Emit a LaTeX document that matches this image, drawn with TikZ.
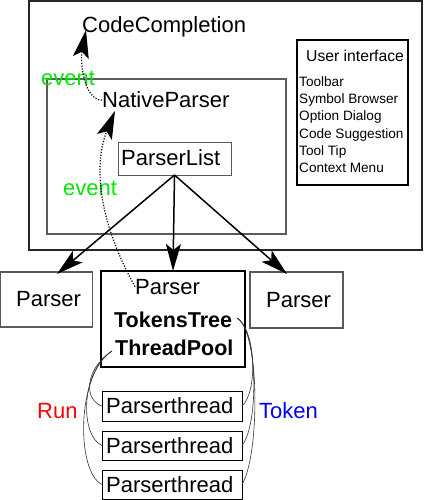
\documentclass[tikz,border=0pt]{standalone}
\usepackage{fontspec}
\setmainfont{Liberation Sans}
\usetikzlibrary{arrows.meta}
\definecolor{evgreen}{RGB}{0,230,0}
\definecolor{boxgray}{RGB}{90,90,90}
\tikzset{
  frame/.style={draw=#1, line width=1.3pt, inner sep=0pt, outer sep=0pt, anchor=north west},
  frame/.default=black,
  lbl/.style={inner sep=0pt, anchor=base west, font=\fontsize{22}{26}\selectfont},
  boldlbl/.style={lbl, font=\fontsize{21.5}{26}\selectfont\bfseries},
  small/.style={inner sep=0pt, anchor=base west, font=\fontsize{13.6}{17}\selectfont},
  bigarrow/.style={line width=1.5pt, -{Stealth[length=27pt, width=15pt, inset=6pt]}},
  dotarrow/.style={line width=1.2pt, dash pattern=on 1.2pt off 1.6pt, -{Stealth[length=28pt, width=16pt, inset=6pt]}},
  thin/.style={line width=0.6pt, draw=black!80}
}
\begin{document}
\begin{tikzpicture}[x=1pt, y=-1pt]
\useasboundingbox (0,0) rectangle (423,500);
% boxes
\node[frame=black!85, minimum width=393pt, minimum height=249pt] (outer) at (29,1) {};
\node[frame=boxgray, minimum width=239pt, minimum height=155pt] (native) at (47,79) {};
\node[frame, minimum width=111pt, minimum height=145pt] (ui) at (297,40) {};
\node[frame=boxgray, line width=1pt, minimum width=113pt, minimum height=33pt] (plist) at (118,142) {};
\node[frame=boxgray, minimum width=92pt, minimum height=55pt] (lp) at (0.6,272) {};
\node[frame, minimum width=144pt, minimum height=96pt] (mp) at (101,271) {};
\node[frame=boxgray, minimum width=93pt, minimum height=56pt] (rp) at (250,272) {};
\node[frame, line width=1pt, minimum width=140pt, minimum height=30pt] (pt1) at (102,391) {};
\node[frame, line width=1pt, minimum width=140pt, minimum height=29pt] (pt2) at (102,431) {};
\node[frame, line width=1pt, minimum width=140pt, minimum height=29pt] (pt3) at (102,470) {};
% texts
\node[lbl] (cc) at (82,33) {CodeCompletion};
\node[lbl] (np) at (102,108) {NativeParser};
\node[lbl] (pl) at (121,165) {ParserList};
\node[lbl, text=evgreen] (ev1) at (41,86) {event};
\node[lbl, text=evgreen] (ev2) at (63,195) {event};
\node[small, font=\fontsize{15.7}{19}\selectfont] (uit) at (306,62) {User interface};
\node[small] (ui1) at (299,87) {Toolbar};
\node[small] (ui2) at (299,104) {Symbol Browser};
\node[small] (ui3) at (299,121) {Option Dialog};
\node[small] (ui4) at (299,138) {Code Suggestion};
\node[small] (ui5) at (299,155) {Tool Tip};
\node[small] (ui6) at (299,172) {Context Menu};
\node[lbl] (lpt) at (16,306) {Parser};
\node[lbl] (mpt) at (135,294) {Parser};
\node[boldlbl] (tt) at (114,327) {TokensTree};
\node[boldlbl] (tp) at (115,355) {ThreadPool};
\node[lbl] (rpt) at (266,307) {Parser};
\node[lbl] (p1) at (106,413) {Parserthread};
\node[lbl] (p2) at (106,453) {Parserthread};
\node[lbl] (p3) at (106,492) {Parserthread};
\node[lbl, text=red] (run) at (37,418) {Run};
\node[lbl, text=blue] (tok) at (259,418) {Token};
% connector end points
\coordinate (ltip) at (57,274);
\coordinate (rtip) at (287,274);
\coordinate (cctip) at (86,30);
\coordinate (nptip) at (115,111);
\coordinate (tpw) at (112,351);
\coordinate (tte) at (237,318);
% arrows
\draw[bigarrow] (plist.south) -- (ltip);
\draw[bigarrow] (plist.south) -- (mp.north);
\draw[bigarrow] (plist.south) -- (rtip);
\draw[dotarrow] (np.west) .. controls (84,100) and (80,62) .. (cctip);
\draw[dotarrow] (mpt.west) .. controls (95,215) and (95,160) .. (nptip);
% run curves
\draw[thin] (tpw) .. controls (84,370) and (84,400) .. (pt1.west);
\draw[thin] (tpw) .. controls (80,372) and (80,436) .. (pt2.west);
\draw[thin] (tpw) .. controls (76,374) and (76,472) .. (pt3.west);
% token curves
\draw[thin] (tte) .. controls (256,330) and (258,392) .. (pt1.east);
\draw[thin] (tte) .. controls (258,330) and (259,425) .. (pt2.east);
\draw[thin] (tte) .. controls (260,330) and (260,455) .. (pt3.east);
\end{tikzpicture}
\end{document}
